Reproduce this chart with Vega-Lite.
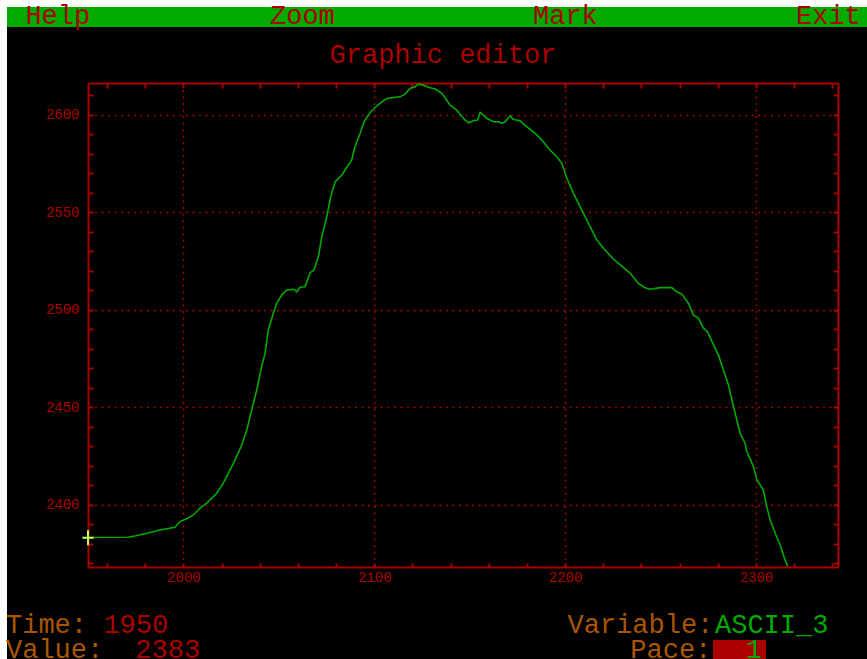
{
  "$schema": "https://vega.github.io/schema/vega-lite/v6.json",
  "width": 750,
  "height": 484,
  "autosize": {"type": "none"},
  "padding": {"left": 88, "top": 83, "right": 29, "bottom": 92},
  "background": "#000000",
  "config": {
    "view": {"stroke": null},
    "font": "Liberation Mono",
    "axis": {
      "domainColor": "#aa0000",
      "domainWidth": 2,
      "tickColor": "#aa0000",
      "tickWidth": 2,
      "labelColor": "#aa0000",
      "labelFont": "Liberation Mono",
      "labelFontSize": 14,
      "labelFlush": false,
      "labelOverlap": false,
      "gridColor": "#aa0000",
      "gridDash": [2, 4.5],
      "gridWidth": 1.5
    }
  },
  "datasets": {
    "series": [
      {"time": 1950, "value": 2383.1}, {"time": 1971.0, "value": 2383.3}, {"time": 1975.2, "value": 2384.0},
      {"time": 1980.9, "value": 2385.3}, {"time": 1987.7, "value": 2387.0}, {"time": 1995.6, "value": 2388.4},
      {"time": 1998.2, "value": 2391.3}, {"time": 2002.3, "value": 2393.0}, {"time": 2005.2, "value": 2394.7},
      {"time": 2008.7, "value": 2398.2}, {"time": 2012.2, "value": 2400.7}, {"time": 2017.5, "value": 2405.9},
      {"time": 2020.9, "value": 2411.0}, {"time": 2026.2, "value": 2421.2}, {"time": 2030.6, "value": 2430.6},
      {"time": 2033.2, "value": 2438.3}, {"time": 2035.8, "value": 2448.6}, {"time": 2038.4, "value": 2458.8},
      {"time": 2041.0, "value": 2470.8}, {"time": 2042.8, "value": 2477.6}, {"time": 2044.5, "value": 2489.6},
      {"time": 2047.1, "value": 2498.2}, {"time": 2048.9, "value": 2503.3}, {"time": 2051.5, "value": 2507.5},
      {"time": 2054.1, "value": 2510.1}, {"time": 2057.6, "value": 2510.5}, {"time": 2059.4, "value": 2509.2},
      {"time": 2061.1, "value": 2511.5}, {"time": 2063.7, "value": 2511.8}, {"time": 2066.4, "value": 2519.0},
      {"time": 2068.4, "value": 2520.4}, {"time": 2070.7, "value": 2527.2}, {"time": 2072.5, "value": 2537.4},
      {"time": 2075.1, "value": 2547.7}, {"time": 2077.2, "value": 2558.0}, {"time": 2079.5, "value": 2565.6},
      {"time": 2083.0, "value": 2569.1}, {"time": 2088.2, "value": 2576.8}, {"time": 2089.9, "value": 2583.6},
      {"time": 2092.6, "value": 2590.5}, {"time": 2094.7, "value": 2596.4}, {"time": 2096.9, "value": 2599.9},
      {"time": 2098.7, "value": 2602.1}, {"time": 2101.3, "value": 2604.5}, {"time": 2104.8, "value": 2607.2},
      {"time": 2106.6, "value": 2608.4}, {"time": 2110.0, "value": 2608.9}, {"time": 2113.5, "value": 2609.2},
      {"time": 2116.1, "value": 2610.6}, {"time": 2118.8, "value": 2613.5}, {"time": 2121.4, "value": 2614.4},
      {"time": 2123.1, "value": 2615.7}, {"time": 2125.7, "value": 2615.2}, {"time": 2128.4, "value": 2614.1},
      {"time": 2131.9, "value": 2613.2}, {"time": 2135.4, "value": 2611.0}, {"time": 2139.7, "value": 2605.0},
      {"time": 2143.2, "value": 2602.4}, {"time": 2146.7, "value": 2598.2}, {"time": 2149.3, "value": 2595.9},
      {"time": 2151.9, "value": 2596.9}, {"time": 2154.2, "value": 2597.3}, {"time": 2155.5, "value": 2601.2},
      {"time": 2159.0, "value": 2598.2}, {"time": 2162.4, "value": 2596.4}, {"time": 2165.0, "value": 2596.4},
      {"time": 2166.8, "value": 2595.6}, {"time": 2168.6, "value": 2596.4}, {"time": 2171.2, "value": 2599.5},
      {"time": 2172.9, "value": 2597.6}, {"time": 2176.4, "value": 2596.9}, {"time": 2178.2, "value": 2595.2},
      {"time": 2181.7, "value": 2592.5}, {"time": 2184.3, "value": 2590.5}, {"time": 2187.8, "value": 2587.0},
      {"time": 2192.1, "value": 2581.9}, {"time": 2195.6, "value": 2578.5}, {"time": 2198.3, "value": 2575.1},
      {"time": 2200.9, "value": 2567.4}, {"time": 2204.4, "value": 2559.7}, {"time": 2207.9, "value": 2552.8},
      {"time": 2210.5, "value": 2547.7}, {"time": 2213.1, "value": 2542.6}, {"time": 2216.6, "value": 2535.8},
      {"time": 2220.1, "value": 2531.5}, {"time": 2225.3, "value": 2526.0}, {"time": 2229.7, "value": 2522.4},
      {"time": 2234.1, "value": 2518.7}, {"time": 2238.4, "value": 2513.5}, {"time": 2241.9, "value": 2511.3},
      {"time": 2244.6, "value": 2510.5}, {"time": 2249.8, "value": 2511.3}, {"time": 2255.9, "value": 2511.3},
      {"time": 2258.5, "value": 2509.2}, {"time": 2261.2, "value": 2508.0}, {"time": 2264.6, "value": 2503.3},
      {"time": 2267.2, "value": 2497.3}, {"time": 2269.9, "value": 2495.6}, {"time": 2272.5, "value": 2490.5},
      {"time": 2274.6, "value": 2488.7}, {"time": 2277.7, "value": 2482.1}, {"time": 2280.3, "value": 2476.8},
      {"time": 2283.0, "value": 2469.1}, {"time": 2285.6, "value": 2461.4}, {"time": 2287.4, "value": 2453.7},
      {"time": 2289.1, "value": 2446.9}, {"time": 2291.7, "value": 2436.6}, {"time": 2294.3, "value": 2431.5},
      {"time": 2295.2, "value": 2427.2}, {"time": 2298.7, "value": 2419.5}, {"time": 2300.5, "value": 2412.7},
      {"time": 2303.9, "value": 2407.5}, {"time": 2305.7, "value": 2399.0}, {"time": 2307.4, "value": 2392.2},
      {"time": 2310.1, "value": 2385.3}, {"time": 2312.7, "value": 2379.3}, {"time": 2314.1, "value": 2375.1},
      {"time": 2316.5, "value": 2368.2}
    ],
    "cursor": [{"time": 1950, "value": 2383, "variable": "ASCII_3", "pace": 1}],
    "screen": [{"name": "Graphic editor"}]
  },
  "layer": [
    {
      "description": "screen border, left",
      "data": {"name": "screen"},
      "mark": {"type": "rect", "color": "#ffffff"},
      "encoding": {
        "x": {"datum": 1900, "type": "quantitative", "axis": null},
        "x2": {"datum": 1907.56},
        "y": {"datum": 2300, "type": "quantitative", "axis": null},
        "y2": {"datum": 2700}
      }
    },
    {
      "description": "screen border, top",
      "data": {"name": "screen"},
      "mark": {"type": "rect", "color": "#ffffff"},
      "encoding": {
        "x": {"datum": 1900, "type": "quantitative", "axis": null},
        "x2": {"datum": 2400},
        "y": {"datum": 2655.29, "type": "quantitative", "axis": null},
        "y2": {"datum": 2700}
      }
    },
    {
      "description": "menu bar",
      "data": {"name": "screen"},
      "mark": {"type": "rect", "color": "#00aa00"},
      "encoding": {
        "x": {"datum": 1907.56, "type": "quantitative", "axis": null},
        "x2": {"datum": 2400},
        "y": {"datum": 2645.03, "type": "quantitative", "axis": null},
        "y2": {"datum": 2655.29}
      }
    },
    {
      "data": {"name": "screen"},
      "mark": {"type": "text", "text": "Help", "color": "#aa0000", "font": "Liberation Mono", "fontSize": 27, "align": "left", "baseline": "alphabetic"},
      "encoding": {
        "x": {"datum": 1917.2, "type": "quantitative", "axis": null},
        "y": {"datum": 2646.57, "type": "quantitative", "axis": null}
      }
    },
    {
      "data": {"name": "screen"},
      "mark": {"type": "text", "text": "Zoom", "color": "#aa0000", "font": "Liberation Mono", "fontSize": 27, "align": "left", "baseline": "alphabetic"},
      "encoding": {
        "x": {"datum": 2045.37, "type": "quantitative", "axis": null},
        "y": {"datum": 2646.57, "type": "quantitative", "axis": null}
      }
    },
    {
      "data": {"name": "screen"},
      "mark": {"type": "text", "text": "Mark", "color": "#aa0000", "font": "Liberation Mono", "fontSize": 27, "align": "left", "baseline": "alphabetic"},
      "encoding": {
        "x": {"datum": 2183.18, "type": "quantitative", "axis": null},
        "y": {"datum": 2646.57, "type": "quantitative", "axis": null}
      }
    },
    {
      "data": {"name": "screen"},
      "mark": {"type": "text", "text": "Exit", "color": "#aa0000", "font": "Liberation Mono", "fontSize": 27, "align": "left", "baseline": "alphabetic"},
      "encoding": {
        "x": {"datum": 2321.0, "type": "quantitative", "axis": null},
        "y": {"datum": 2646.57, "type": "quantitative", "axis": null}
      }
    },
    {
      "description": "window title",
      "data": {"name": "screen"},
      "mark": {"type": "text", "color": "#aa0000", "font": "Liberation Mono", "fontSize": 27, "align": "center", "baseline": "alphabetic"},
      "encoding": {
        "text": {"field": "name", "type": "nominal"},
        "x": {"datum": 2136.0, "type": "quantitative", "axis": null},
        "y": {"datum": 2626.7, "type": "quantitative", "axis": null}
      }
    },
    {
      "description": "the series",
      "data": {"name": "series"},
      "mark": {"type": "line", "color": "#00aa00", "strokeWidth": 1.6, "clip": true},
      "encoding": {
        "x": {
          "field": "time", "type": "quantitative",
          "scale": {"domain": [1950, 2343], "nice": false, "zero": false},
          "axis": {
            "orient": "bottom", "title": null,
            "values": [1960, 1980, 2000, 2020, 2040, 2060, 2080, 2100, 2120, 2140, 2160, 2180, 2200, 2220, 2240, 2260, 2280, 2300, 2320, 2340],
            "labelExpr": "datum.value % 100 === 0 ? '' + datum.value : ''",
            "tickSize": -4, "labelPadding": 7,
            "grid": true,
            "gridOpacity": {"condition": {"test": "datum.value % 100 === 0", "value": 1}, "value": 0}
          }
        },
        "y": {
          "field": "value", "type": "quantitative",
          "scale": {"domain": [2368, 2616.3], "nice": false, "zero": false},
          "axis": {
            "orient": "left", "title": null,
            "values": [2370, 2380, 2390, 2400, 2410, 2420, 2430, 2440, 2450, 2460, 2470, 2480, 2490, 2500, 2510, 2520, 2530, 2540, 2550, 2560, 2570, 2580, 2590, 2600, 2610],
            "labelExpr": "datum.value % 50 === 0 ? '' + datum.value : ''",
            "tickSize": -5, "labelPadding": 14,
            "grid": true,
            "gridOpacity": {"condition": {"test": "datum.value % 50 === 0", "value": 1}, "value": 0}
          }
        }
      }
    },
    {
      "description": "cursor",
      "data": {"name": "cursor"},
      "mark": {"type": "point", "shape": "M-0.75,0H0.75M0,-1V1", "filled": false, "stroke": "#c8ff5a", "strokeWidth": 2, "size": 225, "opacity": 1},
      "encoding": {
        "x": {
          "field": "time", "type": "quantitative",
          "axis": {
            "orient": "top", "title": null, "labels": false, "grid": false,
            "values": [1960, 1980, 2000, 2020, 2040, 2060, 2080, 2100, 2120, 2140, 2160, 2180, 2200, 2220, 2240, 2260, 2280, 2300, 2320, 2340],
            "tickSize": -5
          }
        },
        "y": {
          "field": "value", "type": "quantitative",
          "axis": {
            "orient": "right", "title": null, "labels": false, "grid": false,
            "values": [2370, 2380, 2390, 2400, 2410, 2420, 2430, 2440, 2450, 2460, 2470, 2480, 2490, 2500, 2510, 2520, 2530, 2540, 2550, 2560, 2570, 2580, 2590, 2600, 2610],
            "tickSize": -5
          }
        }
      }
    },
    {
      "data": {"name": "cursor"},
      "mark": {"type": "text", "text": "Time:", "color": "#aa5500", "font": "Liberation Mono", "fontSize": 27, "align": "left", "baseline": "alphabetic"},
      "encoding": {
        "x": {"datum": 1907.03, "type": "quantitative", "axis": null},
        "y": {"datum": 2334.15, "type": "quantitative", "axis": null}
      }
    },
    {
      "data": {"name": "cursor"},
      "mark": {"type": "text", "color": "#aa0000", "font": "Liberation Mono", "fontSize": 27, "align": "left", "baseline": "alphabetic"},
      "encoding": {
        "text": {"field": "time", "type": "quantitative", "format": "d"},
        "x": {"datum": 1958.07, "type": "quantitative", "axis": null},
        "y": {"datum": 2334.15, "type": "quantitative", "axis": null}
      }
    },
    {
      "data": {"name": "cursor"},
      "mark": {"type": "text", "text": "Value:", "color": "#aa5500", "font": "Liberation Mono", "fontSize": 27, "align": "left", "baseline": "alphabetic"},
      "encoding": {
        "x": {"datum": 1907.03, "type": "quantitative", "axis": null},
        "y": {"datum": 2321.48, "type": "quantitative", "axis": null}
      }
    },
    {
      "data": {"name": "cursor"},
      "mark": {"type": "text", "color": "#aa0000", "font": "Liberation Mono", "fontSize": 27, "align": "left", "baseline": "alphabetic"},
      "encoding": {
        "text": {"field": "value", "type": "quantitative", "format": "d"},
        "x": {"datum": 1974.79, "type": "quantitative", "axis": null},
        "y": {"datum": 2321.48, "type": "quantitative", "axis": null}
      }
    },
    {
      "data": {"name": "cursor"},
      "mark": {"type": "text", "text": "Variable:", "color": "#aa5500", "font": "Liberation Mono", "fontSize": 27, "align": "left", "baseline": "alphabetic"},
      "encoding": {
        "x": {"datum": 2201.26, "type": "quantitative", "axis": null},
        "y": {"datum": 2334.15, "type": "quantitative", "axis": null}
      }
    },
    {
      "data": {"name": "cursor"},
      "mark": {"type": "text", "color": "#00aa00", "font": "Liberation Mono", "fontSize": 27, "align": "left", "baseline": "alphabetic"},
      "encoding": {
        "text": {"field": "variable", "type": "nominal"},
        "x": {"datum": 2278.55, "type": "quantitative", "axis": null},
        "y": {"datum": 2334.15, "type": "quantitative", "axis": null}
      }
    },
    {
      "data": {"name": "cursor"},
      "mark": {"type": "text", "text": "Pace:", "color": "#aa5500", "font": "Liberation Mono", "fontSize": 27, "align": "left", "baseline": "alphabetic"},
      "encoding": {
        "x": {"datum": 2234.17, "type": "quantitative", "axis": null},
        "y": {"datum": 2321.48, "type": "quantitative", "axis": null}
      }
    },
    {
      "description": "pace field",
      "data": {"name": "cursor"},
      "mark": {"type": "rect", "color": "#aa0000"},
      "encoding": {
        "x": {"datum": 2277.5, "type": "quantitative", "axis": null},
        "x2": {"datum": 2305.27},
        "y": {"datum": 2318, "type": "quantitative", "axis": null},
        "y2": {"datum": 2330.56}
      }
    },
    {
      "data": {"name": "cursor"},
      "mark": {"type": "text", "color": "#00aa00", "font": "Liberation Mono", "fontSize": 27, "align": "right", "baseline": "alphabetic"},
      "encoding": {
        "text": {"field": "pace", "type": "quantitative", "format": "d"},
        "x": {"datum": 2303.18, "type": "quantitative", "axis": null},
        "y": {"datum": 2321.48, "type": "quantitative", "axis": null}
      }
    }
  ],
  "resolve": {"axis": {"x": "independent", "y": "independent"}}
}
